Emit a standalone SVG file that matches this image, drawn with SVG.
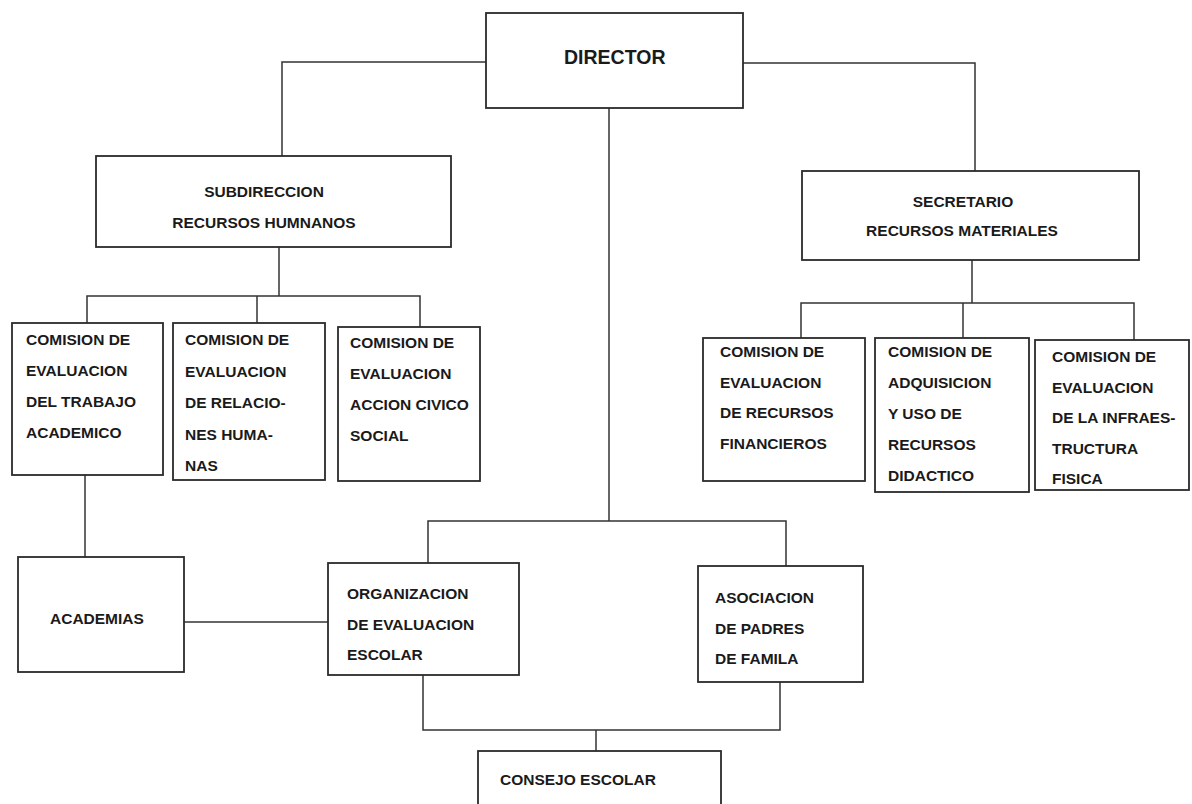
<svg xmlns="http://www.w3.org/2000/svg" width="1192" height="804" viewBox="0 0 1192 804">
<style>
.box{fill:#fff;stroke:#2a2a2a;stroke-width:1.8}
.ln{fill:none;stroke:#333;stroke-width:1.5}
text{font-family:"Liberation Sans",Arial,sans-serif;font-weight:bold;font-size:15.5px;fill:#1a1a1a}
.c{text-anchor:middle}
</style>
<rect width="1192" height="804" fill="#fff"/>
<g id="connectors">
<path class="ln" d="M486,62 H282 V156"/>
<path class="ln" d="M743,63 H975 V171"/>
<path class="ln" d="M609,108 V521"/>
<path class="ln" d="M428,563 V521 H786 V566"/>
<path class="ln" d="M279,247 V296"/>
<path class="ln" d="M87,323 V296 H420 V327"/>
<path class="ln" d="M257,296 V323"/>
<path class="ln" d="M972,260 V303"/>
<path class="ln" d="M801,338 V303 H1134 V340"/>
<path class="ln" d="M963,303 V338"/>
<path class="ln" d="M85,475 V557"/>
<path class="ln" d="M184,622 H328"/>
<path class="ln" d="M423,675 V730 H780 V682"/>
<path class="ln" d="M596,730 V751"/>
</g>
<g id="director">
<rect class="box" x="486" y="13" width="257" height="95"/>
<text x="564" y="64" style="font-size:19.5px">DIRECTOR</text>
</g>
<g id="subdireccion">
<rect class="box" x="96" y="156" width="355" height="91"/>
<text class="c" x="264" y="197">SUBDIRECCION</text>
<text class="c" x="264" y="228">RECURSOS HUMNANOS</text>
</g>
<g id="secretario">
<rect class="box" x="802" y="171" width="337" height="89"/>
<text class="c" x="963" y="207">SECRETARIO</text>
<text class="c" x="962" y="236">RECURSOS MATERIALES</text>
</g>
<g id="com-trabajo">
<rect class="box" x="12" y="323" width="151" height="152"/>
<text x="26" y="345">COMISION DE</text>
<text x="26" y="376">EVALUACION</text>
<text x="26" y="407">DEL TRABAJO</text>
<text x="26" y="438">ACADEMICO</text>
</g>
<g id="com-relaciones">
<rect class="box" x="173" y="323" width="152" height="157"/>
<text x="185" y="345">COMISION DE</text>
<text x="185" y="376.5">EVALUACION</text>
<text x="185" y="408">DE RELACIO-</text>
<text x="185" y="439.5">NES HUMA-</text>
<text x="185" y="471">NAS</text>
</g>
<g id="com-civico">
<rect class="box" x="338" y="327" width="142" height="154"/>
<text x="350" y="348">COMISION DE</text>
<text x="350" y="379">EVALUACION</text>
<text x="350" y="410">ACCION CIVICO</text>
<text x="350" y="441">SOCIAL</text>
</g>
<g id="com-financieros">
<rect class="box" x="703" y="338" width="162" height="143"/>
<text x="720" y="357">COMISION DE</text>
<text x="720" y="388">EVALUACION</text>
<text x="720" y="418">DE RECURSOS</text>
<text x="720" y="449">FINANCIEROS</text>
</g>
<g id="com-didactico">
<rect class="box" x="875" y="338" width="154" height="154"/>
<text x="888" y="357">COMISION DE</text>
<text x="888" y="388">ADQUISICION</text>
<text x="888" y="419">Y  USO  DE</text>
<text x="888" y="450">RECURSOS</text>
<text x="888" y="481">DIDACTICO</text>
</g>
<g id="com-infraestructura">
<rect class="box" x="1035" y="340" width="154" height="150"/>
<text x="1052" y="362">COMISION DE</text>
<text x="1052" y="393">EVALUACION</text>
<text x="1052" y="423">DE LA INFRAES-</text>
<text x="1052" y="454">TRUCTURA</text>
<text x="1052" y="484">FISICA</text>
</g>
<g id="academias">
<rect class="box" x="18" y="557" width="166" height="115"/>
<text x="50" y="623.5">ACADEMIAS</text>
</g>
<g id="organizacion">
<rect class="box" x="328" y="563" width="191" height="112"/>
<text x="347" y="598.5">ORGANIZACION</text>
<text x="347" y="629.5">DE EVALUACION</text>
<text x="347" y="659.5">ESCOLAR</text>
</g>
<g id="asociacion">
<rect class="box" x="698" y="566" width="165" height="116"/>
<text x="715" y="602.5">ASOCIACION</text>
<text x="715" y="633.5">DE PADRES</text>
<text x="715" y="663.5">DE FAMILA</text>
</g>
<g id="consejo">
<rect class="box" x="478" y="751" width="243" height="60"/>
<text x="500" y="784.5">CONSEJO ESCOLAR</text>
</g>
</svg>
